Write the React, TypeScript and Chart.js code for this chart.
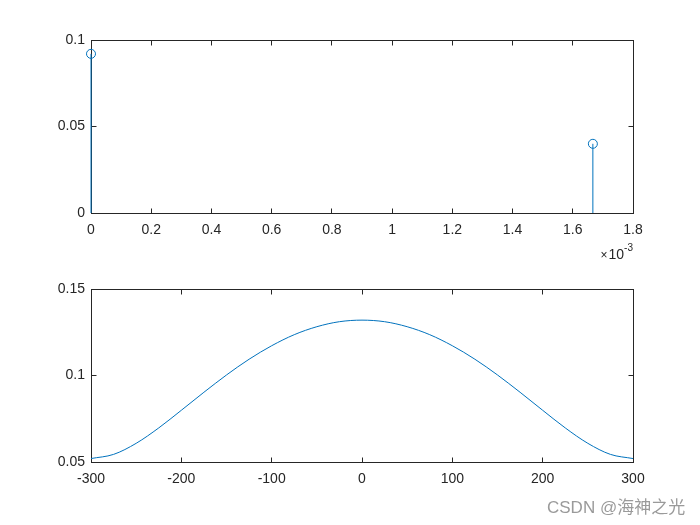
import React, { useEffect, useRef } from "react";
import { Chart, registerables } from "chart.js";

Chart.register(...registerables);

// ---- Data ----
// Top subplot: stem plot (x in units of 1e-3)
const stemX = [0, 1.6667];
const stemY = [0.092, 0.04];
const topXTicks = [0, 0.2, 0.4, 0.6, 0.8, 1, 1.2, 1.4, 1.6, 1.8];
const topYTicks = [0, 0.05, 0.1];

// Bottom subplot: magnitude curve
const freq = [
  -300, -275, -250, -225, -200, -175, -150, -125, -100, -75, -50, -25, 0,
  25, 50, 75, 100, 125, 150, 175, 200, 225, 250, 275, 300,
];
const mag = [
  0.052, 0.0544, 0.0608, 0.0697, 0.0799, 0.0903, 0.1003, 0.1094, 0.1172,
  0.1236, 0.1282, 0.1311, 0.132, 0.1311, 0.1282, 0.1236, 0.1172, 0.1094,
  0.1003, 0.0903, 0.0799, 0.0697, 0.0608, 0.0544, 0.052,
];
const botXTicks = [-300, -200, -100, 0, 100, 200, 300];
const botYTicks = [0.05, 0.1, 0.15];

// ---- Styles ----
const AXIS = "#262626";
const BLUE = "#0072BD";
const FONT = "'Liberation Sans', Arial, Helvetica, sans-serif";
const TICK_LEN = 5;

const matlabAxes = {
  id: "matlabAxes",
  beforeDatasetsDraw(chart: any) {
    const { ctx, chartArea } = chart;
    const xs = chart.scales.x;
    const ys = chart.scales.y;
    const l = Math.floor(chartArea.left) + 0.5;
    const r = Math.floor(chartArea.right) + 0.5;
    const t = Math.floor(chartArea.top) + 0.5;
    const b = Math.floor(chartArea.bottom) + 0.5;
    ctx.save();
    ctx.strokeStyle = AXIS;
    ctx.lineWidth = 1;
    ctx.beginPath();
    xs.ticks.forEach((tk: any) => {
      const px = Math.floor(xs.getPixelForValue(tk.value)) + 0.5;
      ctx.moveTo(px, b);
      ctx.lineTo(px, b - TICK_LEN);
      ctx.moveTo(px, t);
      ctx.lineTo(px, t + TICK_LEN);
    });
    ys.ticks.forEach((tk: any) => {
      const py = Math.floor(ys.getPixelForValue(tk.value)) + 0.5;
      ctx.moveTo(l, py);
      ctx.lineTo(l + TICK_LEN, py);
      ctx.moveTo(r, py);
      ctx.lineTo(r - TICK_LEN, py);
    });
    ctx.stroke();
    ctx.strokeRect(l, t, r - l, b - t);
    ctx.restore();
  },
};

const exponentLabel = {
  id: "exponentLabel",
  afterDraw(chart: any) {
    const { ctx, chartArea } = chart;
    ctx.save();
    ctx.fillStyle = AXIS;
    ctx.textBaseline = "middle";
    ctx.textAlign = "right";
    let x = chartArea.right;
    ctx.font = `10px ${FONT}`;
    ctx.fillText("-3", x, 248);
    x -= ctx.measureText("-3").width;
    ctx.font = `14px ${FONT}`;
    ctx.fillText("10", x, 255);
    x -= ctx.measureText("10").width + 1;
    ctx.font = `12px ${FONT}`;
    ctx.fillText("\u00d7", x, 256);
    ctx.restore();
  },
};

function axisOpts(
  min: number,
  max: number,
  ticks: number[],
  fit: (s: any) => void,
  padding: number
) {
  return {
    type: "linear",
    min,
    max,
    afterBuildTicks: (s: any) => {
      s.ticks = ticks.map((v) => ({ value: v }));
    },
    afterFit: fit,
    grid: { display: false, drawTicks: false },
    border: { display: false },
    ticks: {
      padding,
      autoSkip: false,
      maxRotation: 0,
      color: AXIS,
      font: { family: FONT, size: 14 },
      callback: (v: any) => String(v),
    },
  };
}

export default function App() {
  const topRef = useRef<HTMLCanvasElement>(null);
  const botRef = useRef<HTMLCanvasElement>(null);

  useEffect(() => {
    const stemLine: any[] = [];
    stemX.forEach((x, i) => {
      stemLine.push({ x, y: 0 }, { x, y: stemY[i] }, { x, y: null });
    });

    const top = new Chart(topRef.current as HTMLCanvasElement, {
      type: "scatter",
      data: {
        datasets: [
          {
            type: "line",
            data: stemLine,
            borderColor: BLUE,
            borderWidth: 1,
            pointRadius: 0,
            spanGaps: false,
            clip: false,
          } as any,
          {
            data: stemX.map((x, i) => ({ x, y: stemY[i] })),
            pointRadius: 4.5,
            pointBorderWidth: 1,
            borderColor: BLUE,
            backgroundColor: "rgba(0,0,0,0)",
            clip: false,
          } as any,
        ],
      },
      options: {
        animation: false,
        responsive: false,
        devicePixelRatio: 1,
        events: [],
        layout: { padding: { left: 0, right: 67, top: 40, bottom: 0 } },
        plugins: { legend: { display: false }, tooltip: { enabled: false } },
        scales: {
          x: axisOpts(0, 1.8, topXTicks, (s) => { s.height = 312; }, 9),
          y: axisOpts(0, 0.1, topYTicks, (s) => { s.width = 91; }, 6),
        } as any,
      },
      plugins: [matlabAxes, exponentLabel],
    });

    const bot = new Chart(botRef.current as HTMLCanvasElement, {
      type: "scatter",
      data: {
        datasets: [
          {
            type: "line",
            data: freq.map((f, i) => ({ x: f, y: mag[i] })),
            borderColor: BLUE,
            borderWidth: 1,
            pointRadius: 0,
            cubicInterpolationMode: "monotone",
          } as any,
        ],
      },
      options: {
        animation: false,
        responsive: false,
        devicePixelRatio: 1,
        events: [],
        layout: { padding: { left: 0, right: 67, top: 289, bottom: 0 } },
        plugins: { legend: { display: false }, tooltip: { enabled: false } },
        scales: {
          x: axisOpts(-300, 300, botXTicks, (s) => { s.height = 63; }, 9),
          y: axisOpts(0.05, 0.15, botYTicks, (s) => { s.width = 91; }, 6),
        } as any,
      },
      plugins: [matlabAxes],
    });

    return () => {
      top.destroy();
      bot.destroy();
    };
  }, []);

  const canvasStyle: React.CSSProperties = {
    position: "absolute",
    left: 0,
    top: 0,
    width: 700,
    height: 525,
  };

  return (
    <div
      style={{
        position: "absolute",
        left: 0,
        top: 0,
        width: 700,
        height: 525,
        background: "#ffffff",
        overflow: "hidden",
      }}
    >
      <canvas ref={botRef} width={700} height={525} style={canvasStyle} />
      <canvas ref={topRef} width={700} height={525} style={canvasStyle} />
      <div
        style={{
          position: "absolute",
          left: 547,
          top: 499,
          fontFamily: "'Liberation Sans', Arial, 'Noto Sans CJK SC', sans-serif",
          fontSize: 17,
          lineHeight: "17px",
          color: "#9a9a9a",
          whiteSpace: "nowrap",
        }}
      >
        CSDN @海神之光
      </div>
    </div>
  );
}
